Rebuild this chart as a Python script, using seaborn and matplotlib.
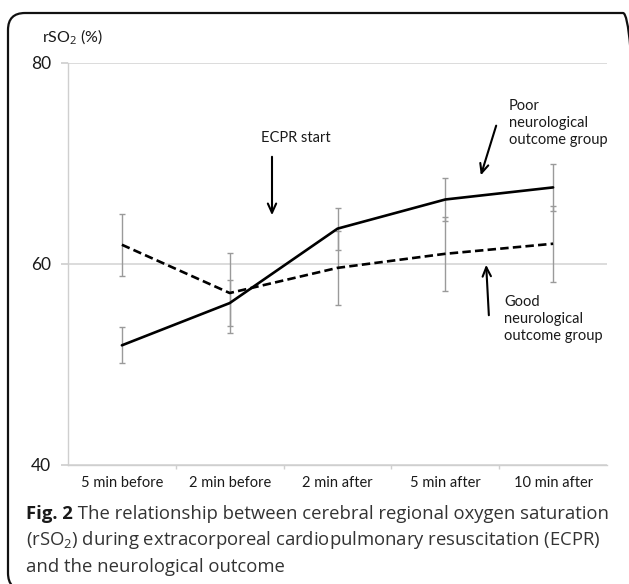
import numpy as np
import pandas as pd
import matplotlib
matplotlib.use("Agg")
import matplotlib.pyplot as plt
import seaborn as sns
from matplotlib.patches import FancyBboxPatch
from matplotlib.transforms import IdentityTransform

# values (mean +/- SD)
time_points = ["5 min before", "2 min before", "2 min after", "5 min after", "10 min after"]
poor_mean = [51.9, 56.1, 63.5, 66.4, 67.6]
poor_sd = [1.8, 2.3, 2.1, 2.1, 2.3]
good_mean = [61.9, 57.1, 59.6, 61.0, 62.0]
good_sd = [3.1, 4.0, 3.7, 3.7, 3.8]
y_ticks = [40, 60, 80]

sns.set_theme(style="white")
plt.rcParams['font.family'] = ['Lato', 'DejaVu Sans']
plt.rcParams['mathtext.fontset'] = 'custom'
plt.rcParams['mathtext.rm'] = 'Open Sans'
plt.rcParams['mathtext.it'] = 'Open Sans'
plt.rcParams['text.color'] = '#1a1a1a'

W, H = 629, 584
fig = plt.figure(figsize=(W / 100, H / 100), dpi=100)
fig.patch.set_facecolor('white')


def fx(px):
    return px / W


def fy(py):
    return 1 - py / H


ax = fig.add_axes([fx(68), fy(465), fx(607) - fx(68), fy(62.7) - fy(465)])

pos = np.arange(len(time_points))
df = pd.DataFrame({
    "pos": np.concatenate([pos, pos]),
    "mean": poor_mean + good_mean,
    "sd": poor_sd + good_sd,
    "group": ["Poor"] * len(pos) + ["Good"] * len(pos),
})

# error bars (grey, thin caps) under the lines
for g in ["Poor", "Good"]:
    sub = df[df["group"] == g]
    ax.errorbar(sub["pos"], sub["mean"], yerr=sub["sd"], fmt='none',
                ecolor='#9a9a9a', elinewidth=1.0, capsize=2, capthick=1.0, zorder=2)

sns.lineplot(data=df, x="pos", y="mean", style="group",
             dashes={"Poor": "", "Good": (3.2, 1.6)},
             color="black", linewidth=1.9, legend=False, ax=ax, zorder=3)

ax.set_xlim(-0.5, len(time_points) - 0.5)
ax.set_ylim(40, 80)
ax.set_yticks(y_ticks)
ax.set_yticklabels([str(t) for t in y_ticks], fontsize=12.5)
ax.set_xticks(pos)
ax.set_xticklabels(time_points, fontsize=10.5)
ax.set_xticks(pos[:-1] + 0.5, minor=True)
ax.set_xlabel("")
ax.set_ylabel("")

ax.yaxis.grid(True, color='#d6d6d6', linewidth=1.2)
ax.xaxis.grid(False)
for s in ['top', 'right']:
    ax.spines[s].set_visible(False)
for s in ['left', 'bottom']:
    ax.spines[s].set_color('#cfcfcf')
    ax.spines[s].set_linewidth(1.0)
ax.tick_params(axis='y', which='major', length=5, color='#cfcfcf', pad=7, left=True,
               labelcolor='#1a1a1a')
ax.tick_params(axis='x', which='major', length=0, pad=8, labelcolor='#1a1a1a')
ax.tick_params(axis='x', which='minor', length=3, color='#cfcfcf', bottom=True)

# axis title
fig.text(fx(42), fy(37), "rSO$_2$ (%)", fontsize=11.5, va='center', ha='left')

# annotations
arrow = dict(arrowstyle='->,head_length=0.55,head_width=0.25', color='black', lw=1.5)
fig.text(fx(296), fy(138), "ECPR start", fontsize=10.5, ha='center', va='center')
ax.annotate("", xy=(fx(272), fy(218)), xytext=(fx(272), fy(154)),
            xycoords='figure fraction', textcoords='figure fraction', arrowprops=arrow)

fig.text(fx(509), fy(123), "Poor\nneurological\noutcome group", fontsize=10.5,
         ha='left', va='center', linespacing=1.25)
ax.annotate("", xy=(fx(480), fy(178)), xytext=(fx(497), fy(123)),
            xycoords='figure fraction', textcoords='figure fraction', arrowprops=arrow)

fig.text(fx(504), fy(319), "Good\nneurological\noutcome group", fontsize=10.5,
         ha='left', va='center', linespacing=1.25)
ax.annotate("", xy=(fx(486), fy(262)), xytext=(fx(489), fy(318)),
            xycoords='figure fraction', textcoords='figure fraction', arrowprops=arrow)

# caption
cap_font = ['Open Sans', 'DejaVu Sans']
cap_size = 13.3
cap_color = '#333333'
t1 = fig.text(fx(26), fy(519), "Fig. 2", fontsize=cap_size, fontweight='bold',
              family=cap_font, color='#1a1a1a', va='baseline', ha='left')
fig.canvas.draw()
bb = t1.get_window_extent()
fig.text(bb.x1 / W, fy(519), " The relationship between cerebral regional oxygen saturation",
         fontsize=cap_size, family=cap_font, color=cap_color, va='baseline', ha='left')
fig.text(fx(26), fy(545), "(rSO$_2$) during extracorporeal cardiopulmonary resuscitation (ECPR)",
         fontsize=cap_size, family=cap_font, color=cap_color, va='baseline', ha='left')
fig.text(fx(26), fy(572), "and the neurological outcome",
         fontsize=cap_size, family=cap_font, color=cap_color, va='baseline', ha='left')

# rounded frame around the panel (runs off the right and bottom edges)
frame = FancyBboxPatch((8, -6), 632, 571 + 6, boxstyle="round,pad=0,rounding_size=17",
                       transform=IdentityTransform(), facecolor='none',
                       edgecolor='#111111', linewidth=1.6)
fig.add_artist(frame)

fig.savefig("out.png", dpi=100, facecolor='white')
